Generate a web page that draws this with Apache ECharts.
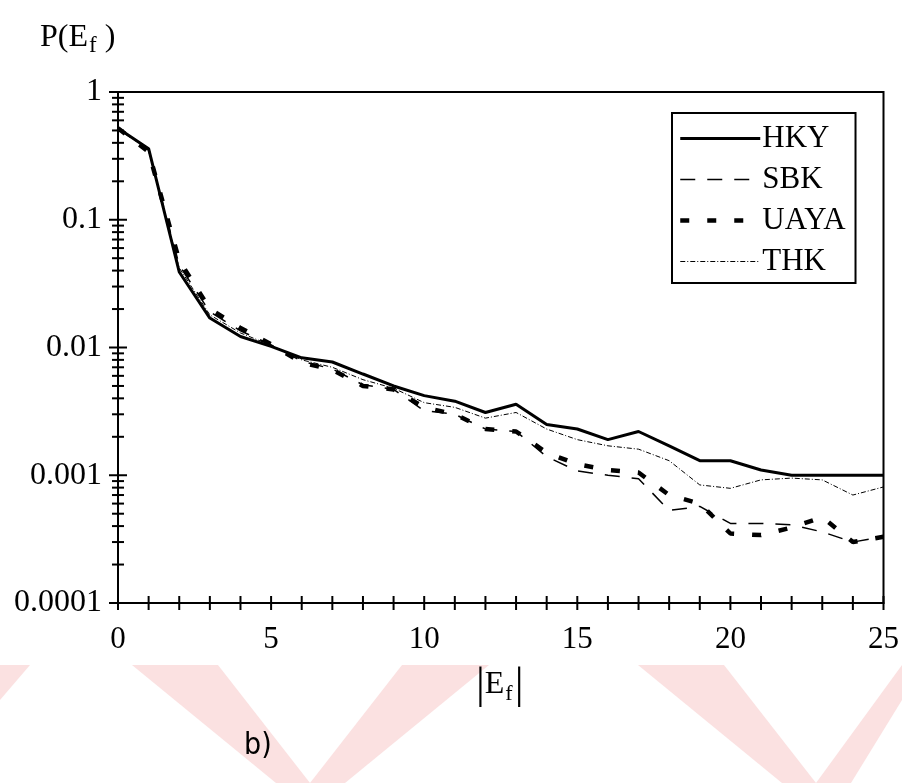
<!DOCTYPE html>
<html>
<head>
<meta charset="utf-8">
<script src="https://cdn.jsdelivr.net/npm/echarts@6/dist/echarts.min.js"></script>
<style>
  html, body { margin: 0; padding: 0; background: #fff; }
  #chart { width: 902px; height: 783px; }
</style>
</head>
<body>
<div id="chart"></div>
<script>
// |E_f| values (x) and probability P(E_f) for each model
const efValues = [0, 1, 2, 3, 4, 5, 6, 7, 8, 9, 10, 11, 12, 13, 14, 15, 16, 17, 18, 19, 20, 21, 22, 23, 24, 25];
const hky  = [0.52, 0.36, 0.039, 0.017, 0.0122, 0.0102, 0.0083, 0.0077, 0.0062, 0.005, 0.0042, 0.0038, 0.0031, 0.0036, 0.0025, 0.0023, 0.0019, 0.0022, 0.0017, 0.0013, 0.0013, 0.0011, 0.001, 0.001, 0.001, 0.001];
const sbk  = [0.52, 0.35, 0.044, 0.019, 0.0135, 0.0105, 0.0078, 0.0068, 0.0051, 0.0047, 0.0032, 0.003, 0.0023, 0.0022, 0.0014, 0.00108, 0.001, 0.00094, 0.00053, 0.00057, 0.00042, 0.00042, 0.00041, 0.00036, 0.0003, 0.00033];
const uaya = [0.52, 0.34, 0.048, 0.02, 0.0142, 0.0106, 0.0076, 0.0067, 0.005, 0.0047, 0.0034, 0.003, 0.0023, 0.0022, 0.0015, 0.00122, 0.0011, 0.00105, 0.0007, 0.0006, 0.00035, 0.00034, 0.00039, 0.00047, 0.0003, 0.00033];
const thk  = [0.52, 0.35, 0.042, 0.018, 0.013, 0.0104, 0.008, 0.007, 0.0056, 0.0048, 0.0037, 0.0034, 0.0028, 0.0031, 0.0023, 0.0019, 0.0017, 0.0016, 0.0013, 0.00084, 0.00079, 0.00092, 0.00095, 0.00092, 0.0007, 0.00081];

const seriesNames = ['HKY', 'SBK', 'UAYA', 'THK'];
const yTickLabels = ['0.0001', '0.001', '0.01', '0.1', '1'];
const xTickLabels = ['0', '5', '10', '15', '20', '25'];

// tick positions along both axes (each decade split at 1..9)
const yTicks = [];
for (let d = -4; d < 0; d++) {
  for (let m = 1; m <= 9; m++) yTicks.push([0, m * Math.pow(10, d), m === 1 ? 1 : 0]);
}
yTicks.push([0, 1, 1]);
const xTicks = efValues.map(v => [v, 0.0001]);

const pair = arr => efValues.map((x, i) => [x, arr[i]]);
const SERIF = '"Liberation Serif", "DejaVu Serif", serif';
const PINK = '#fbe1e1';

const chart = echarts.init(document.getElementById('chart'), null, { renderer: 'canvas' });

function lineSeries(name, data, width, type) {
  return {
    name, type: 'line', data: pair(data), symbol: 'none', smooth: false,
    lineStyle: { color: '#000', width, type, cap: 'butt' },
    itemStyle: { color: '#000' },
    emphasis: { disabled: true },
    z: 3
  };
}

chart.setOption({
  animation: false,
  backgroundColor: '#fff',
  grid: {
    left: 118, right: 17, top: 92, bottom: 180,
    show: true, borderColor: '#000', borderWidth: 2, backgroundColor: 'transparent'
  },
  xAxis: {
    type: 'value', min: 0, max: 25, interval: 5,
    axisLine: { show: true, lineStyle: { color: '#000', width: 2 } },
    axisTick: { show: false },
    splitLine: { show: false },
    axisLabel: { color: '#000', fontFamily: SERIF, fontSize: 31, margin: 21,
      formatter: v => xTickLabels[xTickLabels.indexOf(String(v))] }
  },
  yAxis: {
    type: 'log', logBase: 10, min: 0.0001, max: 1,
    axisLine: { show: true, lineStyle: { color: '#000', width: 2 } },
    axisTick: { show: false },
    splitLine: { show: false },
    minorTick: { show: false },
    axisLabel: { color: '#000', fontFamily: SERIF, fontSize: 32, margin: 16,
      formatter: v => yTickLabels.find(t => Math.abs(parseFloat(t) - v) / v < 1e-6) || '' }
  },
  legend: {
    data: seriesNames,
    orient: 'vertical',
    left: 672, top: 113,
    padding: [10, 10, 6, 6],
    itemGap: 10,
    itemWidth: 80, itemHeight: 30,
    backgroundColor: '#fff',
    borderColor: '#000', borderWidth: 2, borderRadius: 0,
    selectedMode: false,
    itemStyle: { opacity: 0 },
    lineStyle: { width: 'inherit', type: 'inherit', cap: 'butt' },
    textStyle: { color: '#000', fontFamily: SERIF, fontSize: 31, lineHeight: 30, padding: [0, 0, 0, -3] }
  },
  graphic: [
    // light diagonal bands in the lower margin
    { type: 'polygon', z: -10, shape: { points: [[0, 665], [30, 665], [0, 700]] }, style: { fill: PINK } },
    { type: 'polygon', z: -10, shape: { points: [[132, 665], [218, 665], [310, 783], [276, 783]] }, style: { fill: PINK } },
    { type: 'polygon', z: -10, shape: { points: [[402, 665], [489, 665], [345, 783], [310, 783]] }, style: { fill: PINK } },
    { type: 'polygon', z: -10, shape: { points: [[638, 665], [724, 665], [816, 783], [782, 783]] }, style: { fill: PINK } },
    { type: 'polygon', z: -10, shape: { points: [[902, 665], [902, 700], [851, 783], [816, 783]] }, style: { fill: PINK } },
    {
      type: 'text', left: 40, top: 22,
      style: {
        text: 'P(E{s|f} )',
        rich: { s: { fontFamily: SERIF, fontSize: 23, padding: [15, 0, 0, 1], fill: '#000' } },
        fontFamily: SERIF, fontSize: 32, fill: '#000'
      }
    },
    {
      type: 'text', left: 476, top: 664,
      style: {
        text: '{b||}{e|E}{s|f}{b||}',
        rich: {
          b: { fontFamily: SERIF, fontSize: 44, fill: '#000' },
          e: { fontFamily: SERIF, fontSize: 32, fill: '#000', padding: [0, 0, 2, 0] },
          s: { fontFamily: SERIF, fontSize: 22, padding: [17, 2, 0, 1], fill: '#000' }
        }
      }
    },
    {
      type: 'text', left: 244, top: 731,
      style: { text: 'b)', fontFamily: '"Liberation Sans Narrow", "DejaVu Sans Condensed", sans-serif', fontSize: 30, fill: '#000' }
    }
  ],
  series: [
    lineSeries('HKY', hky, 3, 'solid'),
    lineSeries('SBK', sbk, 1.5, [15, 12]),
    lineSeries('UAYA', uaya, 4.5, [9, 18]),
    lineSeries('THK', thk, 1, [5, 2, 1, 2]),
    {
      name: 'yTicks', type: 'custom', data: yTicks, clip: false, silent: true, z: 4,
      renderItem: (params, api) => {
        const p = api.coord([0, api.value(1)]);
        const half = api.value(2) ? 9 : 6;
        return { type: 'line', shape: { x1: p[0] - half, y1: p[1], x2: p[0] + half, y2: p[1] },
          style: { stroke: '#000', lineWidth: 2 } };
      }
    },
    {
      name: 'xTicks', type: 'custom', data: xTicks, clip: false, silent: true, z: 4,
      renderItem: (params, api) => {
        const p = api.coord([api.value(0), api.value(1)]);
        return { type: 'line', shape: { x1: p[0], y1: p[1] - 7, x2: p[0], y2: p[1] + 7 },
          style: { stroke: '#000', lineWidth: 2 } };
      }
    }
  ]
});
</script>
</body>
</html>
